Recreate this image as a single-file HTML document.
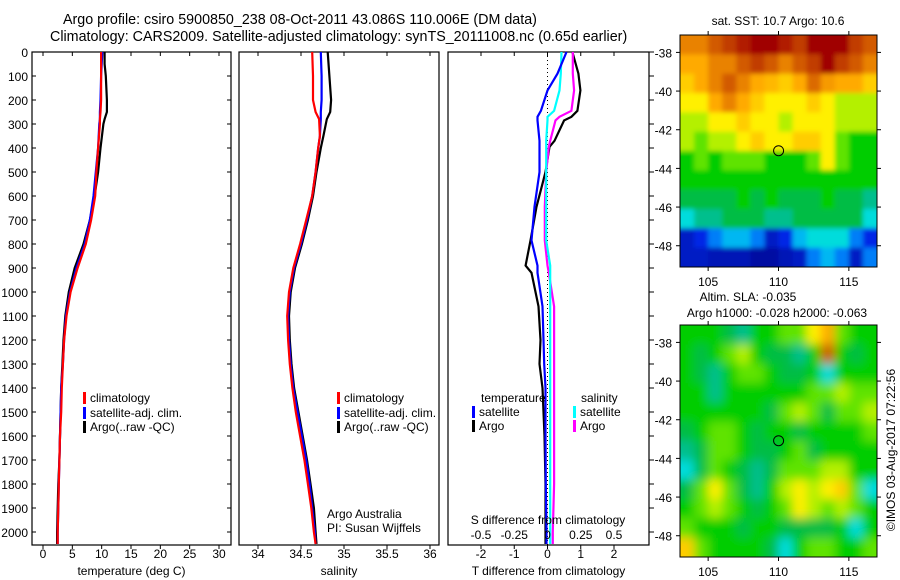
<!DOCTYPE html>
<html><head><meta charset="utf-8">
<style>
html,body{margin:0;padding:0;background:#fff;}
svg{display:block;font-family:"Liberation Sans",sans-serif;font-size:12px;}
</style></head>
<body>
<svg id="chart" width="900" height="580" viewBox="0 0 900 580">
<defs>
<filter id="blur1" x="-5%" y="-5%" width="110%" height="110%"><feGaussianBlur stdDeviation="2.5"/></filter>
<filter id="blur2" x="-5%" y="-5%" width="110%" height="110%"><feGaussianBlur stdDeviation="5"/></filter>
<clipPath id="clip1"><rect x="680" y="35" width="197" height="232"/></clipPath>
<clipPath id="clip2"><rect x="680" y="325" width="197" height="232"/></clipPath>
</defs>
<rect width="900" height="580" fill="#fff"/>
<text x="63" y="24" style="font-size:14.3px">Argo profile: csiro 5900850_238 08-Oct-2011 43.086S 110.006E (DM data)</text>
<text x="50" y="41" style="font-size:14.3px">Climatology: CARS2009. Satellite-adjusted climatology: synTS_20111008.nc (0.65d earlier)</text>
<g id="g"></g>
</svg>
<script>
// ---- profile data ----
const tDepth=[0,50,100,200,250,280,300,400,500,600,700,800,900,1000,1100,1200,1300,1400,1500,1600,1700,1800,1900,2000,2050];
const tClim=[9.9,9.9,9.9,9.9,9.8,9.7,9.7,9.4,9.1,8.9,8.2,7.3,5.9,4.7,4.0,3.6,3.4,3.2,3.1,2.9,2.8,2.7,2.6,2.5,2.5];
const tSat=[10.1,10.0,9.9,9.8,9.7,9.7,9.6,9.4,9.0,8.6,8.0,7.1,5.7,4.6,3.9,3.6,3.4,3.1,3.0,2.9,2.8,2.7,2.6,2.5,2.5];
const tArgo=[10.5,10.5,10.7,10.9,10.9,10.5,10.3,9.8,9.4,8.8,8.0,6.9,5.4,4.4,3.8,3.5,3.3,3.1,3.0,2.9,2.8,2.6,2.5,2.4,2.4];
const sDepth=[0,100,200,250,280,350,400,500,600,700,800,900,1000,1100,1200,1300,1400,1500,1600,1700,1800,1900,2000,2050];
const sClim=[34.63,34.64,34.64,34.67,34.71,34.72,34.70,34.67,34.63,34.56,34.49,34.41,34.36,34.34,34.35,34.37,34.40,34.44,34.49,34.54,34.58,34.62,34.65,34.67];
const sSat=[34.73,34.74,34.74,34.73,34.73,34.72,34.70,34.67,34.63,34.57,34.50,34.42,34.37,34.35,34.36,34.38,34.41,34.46,34.51,34.56,34.60,34.63,34.66,34.67];
const sArgo=[34.81,34.83,34.85,34.84,34.80,34.76,34.73,34.68,34.64,34.58,34.51,34.43,34.38,34.36,34.37,34.39,34.42,34.47,34.52,34.57,34.61,34.65,34.67,34.68];
const dDepth=[0,90,160,245,270,285,370,395,500,645,785,890,920,1060,1200,1300,1400,1600,1800,2000,2050];
const dTSat=[0.57,0.3,0.0,-0.2,-0.3,-0.3,-0.24,-0.24,-0.24,-0.39,-0.48,-0.3,-0.3,-0.15,-0.12,-0.1,-0.06,-0.06,-0.05,-0.03,-0.03];
const dTArgo=[0.75,0.93,0.99,0.9,0.72,0.5,0.21,0.06,-0.06,-0.33,-0.51,-0.66,-0.48,-0.27,-0.21,-0.24,-0.15,-0.09,-0.06,-0.06,-0.06];
const dSSat=[0.105,0.10,0.09,0.05,0.0,0.0,-0.01,-0.01,-0.01,-0.01,-0.01,0.02,0.02,0.02,0.02,0.02,0.02,0.02,0.02,0.02,0.02];
const dSArgo=[0.19,0.19,0.2,0.18,0.09,0.06,0.02,0.01,-0.01,-0.02,-0.02,0.0,0.01,0.05,0.05,0.05,0.05,0.05,0.05,0.04,0.04];
const depthTicks=[0,100,200,300,400,500,600,700,800,900,1000,1100,1200,1300,1400,1500,1600,1700,1800,1900,2000];
const tTicks=[0,5,10,15,20,25,30];
const sTicks=[34,34.5,35,35.5,36];
const dTTicks=[-2,-1,0,1,2];
const dSTicks=[-0.5,-0.25,0,0.25,0.5];
// ---- map data (colour index 0..10) ----
const mapLonTicks=[105,110,115];
const mapLatTicks=[-38,-40,-42,-44,-46,-48];
const sstGrid=[
[7.5,7.5,8,8.5,9,9.5,9.5,9,8.5,9.5,9.5,9.5,8.5,8],
[7,7,7.5,7.5,8,8.5,8,7.5,8,8.5,9.5,8.5,8,7.5],
[6.5,7,7.5,8,7.5,7,6.8,6.5,7,7.8,7.2,7,7,6.5],
[6,6,7,7.5,7,6.5,6,6,6,6.5,6,5.5,5.5,5.5],
[5.5,5.5,6,6,6.5,6,6,5.5,6,6,6,5.5,5.5,5.5],
[5.5,5,5.5,5.5,6,6.5,6,6,6.5,6.5,6,5,4.5,4.5],
[4.5,5,4.5,5,5,5,4.5,4.5,4.5,5,6,5,4.5,4.5],
[4.5,4.5,4.5,4.5,4.5,4.5,4.5,4.5,4.5,4.5,4.5,4.5,4.5,4.5],
[4,4,4,4,4.5,4,4.5,4,4,4,4.5,4,4,3.5],
[3,3.5,3.5,4,4,4,3.5,3.5,4,4,4,4,4,3],
[1,1.5,2,2.5,2.5,2,1,1.5,2.5,3,3,3,2,1.5],
[1,1,0.8,0.8,0.8,0.5,0.5,0.8,1,2,2.5,2,1,2]];
const slaGrid=[
[4.5,4.5,4.5,4,3.5,4.5,4.5,5,5,6,7,5,4.5,4.5],
[4.5,4,4.5,5,5.5,4.5,4,4,3.5,4.5,8,4.5,4,4.5],
[4.5,4,3.5,4.5,5,5,4.5,4,4,4.5,3,4.5,4.5,4.5],
[4.5,4.5,3.5,4.5,4.5,4.5,4.5,4.5,4.5,5,5,5.5,5,5],
[4.5,4.5,4.5,4.5,4.5,4.5,4,5,5.5,5,4,5,5,5.5],
[4,4.5,5,5,4.5,4,4.5,4.5,4,4.5,4.5,4.5,4.5,5],
[3.5,4,5,5,4.5,4,4,4.5,5,4,4.5,4.5,4.5,4.5],
[3,4,5,4.5,4,3.5,4,5,5,5,5.5,5.5,4.5,4.5],
[4,5,6,5,4,3.5,4.5,5.5,6,5.5,6,6.5,5,3],
[4.5,5,5.5,5,4.5,4,4.5,5,6,5.5,5,5.5,5,4.5],
[5,4.5,4.5,4.5,4,4.5,4.5,4,4,4,4,4.5,3,4.5],
[6.5,5,4.5,4.5,4.5,4.5,4,3,4.5,5,5,4.5,4.5,5]];
const floatLon=110.006, floatLat=-43.086;

const NS='http://www.w3.org/2000/svg';
const G=document.getElementById('g');
function el(tag,attrs,parent,txt){const e=document.createElementNS(NS,tag);for(const k in attrs)e.setAttribute(k,attrs[k]);if(txt!==undefined)e.textContent=txt;(parent||G).appendChild(e);return e;}
function lin(d0,d1,r0,r1){return v=>r0+(v-d0)/(d1-d0)*(r1-r0);}
const Y=lin(0,2000,52,532);
const PB=545;

function panel(name,x0,x1,X,ticks,labels,title){
  const g=el('g',{});
  
  
  const r=el('rect',{x:x0,y:52,width:x1-x0,height:PB-52,fill:'none',stroke:'#000','stroke-width':1.2},g);
  
  
  ticks.forEach((t,i)=>{
    const x=X(t);
    el('line',{x1:x,x2:x,y1:PB,y2:PB+4,stroke:'#000'},g);
    el('line',{x1:x,x2:x,y1:52,y2:56,stroke:'#000'},g);
    if(labels){const tx=el('text',{x:x,y:558,'text-anchor':'middle'},g,labels[i]);
      
      }
  });
  if(title){const tt=el('text',{x:(x0+x1)/2,y:575,'text-anchor':'middle'},g,title);
    
    }
  return g;
}
function series(g,name,xs,ds,X,color){
  const pts=xs.map((v,i)=>X(v).toFixed(1)+','+Y(ds[i]).toFixed(1)).join(' ');
  const p=el('polyline',{points:pts,fill:'none',stroke:color,'stroke-width':2.2},g);
  
  
}
function legend(g,x,y,color,label){
  const r=el('rect',{x:x,y:y-10,width:3,height:12,fill:color},g);
  
  
  const t=el('text',{x:x+7,y:y},g,label);
  
  
}

// Panel 1 temperature
const XT=lin(0,30,43,219);
const p1=panel('temperature-panel',32,231,XT,tTicks,tTicks.map(String),'temperature (deg C)');
depthTicks.forEach(d=>{
  el('line',{x1:32,x2:36,y1:Y(d),y2:Y(d),stroke:'#000'},p1);
  el('line',{x1:227,x2:231,y1:Y(d),y2:Y(d),stroke:'#000'},p1);
  const t=el('text',{x:28,y:Y(d)+5,'text-anchor':'end'},p1,String(d));
  
  
});
series(p1,'temperature-argo-line',tArgo,tDepth,XT,'#000');
series(p1,'temperature-satellite-line',tSat,tDepth,XT,'#00f');
series(p1,'temperature-climatology-line',tClim,tDepth,XT,'#f00');
legend(p1,83,402,'#f00','climatology');
legend(p1,83,417,'#00f','satellite-adj. clim.');
legend(p1,83,431,'#000','Argo(..raw -QC)');

// Panel 2 salinity
const XS=lin(34,36,258,430);
const p2=panel('salinity-panel',239,439,XS,sTicks,sTicks.map(String),'salinity');
series(p2,'salinity-argo-line',sArgo,sDepth,XS,'#000');
series(p2,'salinity-satellite-line',sSat,sDepth,XS,'#00f');
series(p2,'salinity-climatology-line',sClim,sDepth,XS,'#f00');
legend(p2,337,402,'#f00','climatology');
legend(p2,337,417,'#00f','satellite-adj. clim.');
legend(p2,337,431,'#000','Argo(..raw -QC)');
const a1=el('text',{x:327,y:518},p2,'Argo Australia');
const a2=el('text',{x:327,y:532},p2,'PI: Susan Wijffels');

// Panel 3 differences
const XD=lin(-2,2,481,614);
const XDS=lin(-0.5,0.5,481,614);
const p3=panel('difference-panel',448,649,XD,dTTicks,dTTicks.map(String),'T difference from climatology');
depthTicks.forEach(d=>{el('line',{x1:649,x2:654,y1:Y(d),y2:Y(d),stroke:'#000'},p3);});
el('line',{x1:XD(0),x2:XD(0),y1:52,y2:PB,stroke:'#000','stroke-dasharray':'1,3'},p3);
series(p3,'t-diff-argo-line',dTArgo,dDepth,XD,'#000');
series(p3,'s-diff-argo-line',dSArgo,dDepth,XDS,'#f0f');
series(p3,'s-diff-satellite-line',dSSat,dDepth,XDS,'#0ff');
series(p3,'t-diff-satellite-line',dTSat,dDepth,XD,'#00f');
const lt=el('text',{x:481,y:402},p3,'temperature');
const ls=el('text',{x:581,y:402},p3,'salinity');
legend(p3,472,416,'#00f','satellite');
legend(p3,472,430,'#000','Argo');
legend(p3,573,416,'#0ff','satellite');
legend(p3,573,430,'#f0f','Argo');
const st=el('text',{x:548,y:524,'text-anchor':'middle'},p3,'S difference from climatology');
dSTicks.forEach(v=>{const t=el('text',{x:XDS(v),y:539,'text-anchor':'middle'},p3,String(v));
  });

// Maps
const stops=[[0,[0,0,128]],[1.5,[0,40,230]],[2.2,[0,160,255]],[3,[0,220,220]],[3.7,[0,180,110]],[4.5,[0,205,0]],[5.3,[150,240,0]],[6,[255,240,0]],[7,[255,170,0]],[8,[210,90,0]],[9.5,[160,0,0]],[10,[140,0,0]]];
function col(v){for(let i=1;i<stops.length;i++){if(v<=stops[i][0]){const a=stops[i-1],b=stops[i],f=(v-a[0])/(b[0]-a[0]);const c=a[1].map((x,k)=>Math.round(x+(b[1][k]-x)*f));return 'rgb('+c.join(',')+')';}}return 'rgb(140,0,0)';}
function map(name,top,grid,titles,clip,blur){
  const g=el('g',{});
  
  
  const MX=lin(103,117,680,877), MY=lin(-37.1,-49.1,top,top+232);
  const cg=el('g',{'clip-path':'url(#'+clip+')'},g);
  const bg=el('g',{filter:'url(#'+blur+')'},cg);
  grid.forEach((row,r)=>row.forEach((v,c)=>{
    let x0=MX(103+c),x1=MX(104+c),y0=MY(-37.1-r),y1=MY(Math.max(-49.1,-38.1-r));
    if(c===0)x0-=10; if(c===row.length-1)x1+=10; if(r===0)y0-=10; if(r===grid.length-1)y1+=10;
    const rc=el('rect',{x:x0.toFixed(1),y:y0.toFixed(1),width:(x1-x0+0.6).toFixed(1),height:(y1-y0+0.6).toFixed(1),fill:col(v)},bg);
    
    
  }));
  const fr=el('rect',{x:680,y:top,width:197,height:232,fill:'none',stroke:'#000'},g);
  
  mapLonTicks.forEach(l=>{el('line',{x1:MX(l),x2:MX(l),y1:top,y2:top-4,stroke:'#000'},g);el('line',{x1:MX(l),x2:MX(l),y1:top+232,y2:top+236,stroke:'#000'},g);
    const t=el('text',{x:MX(l),y:top+251,'text-anchor':'middle'},g,String(l));});
  mapLatTicks.forEach(l=>{el('line',{x1:676,x2:680,y1:MY(l),y2:MY(l),stroke:'#000'},g);el('line',{x1:877,x2:881,y1:MY(l),y2:MY(l),stroke:'#000'},g);
    const t=el('text',{x:672,y:MY(l)+5,'text-anchor':'end'},g,String(l));});
  const ci=el('circle',{cx:MX(floatLon),cy:MY(floatLat),r:5,fill:'none',stroke:'#000','stroke-width':1},g);
  
  titles.forEach(t=>{const tx=el('text',{x:t[0],y:t[1],'text-anchor':'middle'},g,t[2]);});
}
map('sst-map',35,sstGrid,[[778,25,'sat. SST: 10.7 Argo: 10.6']],'clip1','blur1');
map('sla-map',325,slaGrid,[[748,301,'Altim. SLA: -0.035'],[777,317,'Argo h1000: -0.028 h2000: -0.063']],'clip2','blur2');
const cr=el('text',{x:0,y:0,'text-anchor':'middle',transform:'translate(895,450) rotate(-90)'},G,'\u00A9IMOS 03-Aug-2017 07:22:56');


</script>
</body></html>
